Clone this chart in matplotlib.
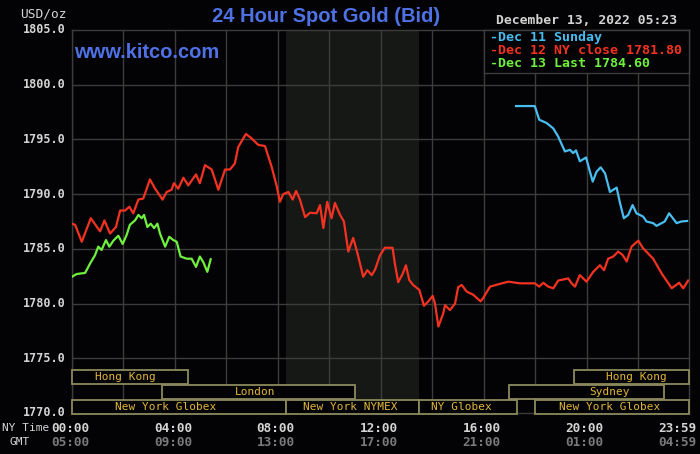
import matplotlib
matplotlib.use("Agg")
import matplotlib.pyplot as plt
from matplotlib.patches import Rectangle
import matplotlib.transforms as mtransforms

# ---------------- data ----------------
red_h = [0.0, 0.12, 0.38, 0.73, 1.09, 1.26, 1.48, 1.71, 1.87, 2.06, 2.23, 2.38, 2.58, 2.77, 3.03, 3.23,
         3.52, 3.68, 3.87, 3.96, 4.13, 4.33, 4.52, 4.82, 4.97, 5.17, 5.43, 5.69, 5.95, 6.14, 6.33, 6.46,
         6.76, 6.98, 7.24, 7.5, 7.76, 7.96, 8.08, 8.21, 8.41, 8.58, 8.71, 8.86, 9.06, 9.25, 9.51, 9.64,
         9.77, 9.92, 10.09, 10.22, 10.42, 10.57, 10.74, 10.93, 11.09, 11.32, 11.48, 11.65, 11.78, 11.97,
         12.16, 12.46, 12.55, 12.68, 12.85, 12.98, 13.11, 13.26, 13.5, 13.68, 13.85, 14.02, 14.11, 14.24,
         14.43, 14.5, 14.69, 14.89, 15.01, 15.15, 15.34, 15.6, 15.88, 15.98, 16.25, 16.63, 16.96, 17.41,
         17.99, 18.16, 18.32, 18.51, 18.71, 18.9, 19.29, 19.42, 19.55, 19.74, 20.0, 20.26, 20.52, 20.68,
         20.84, 21.04, 21.23, 21.4, 21.56, 21.75, 22.01, 22.2, 22.59, 22.92, 23.31, 23.6, 23.76, 23.95]
red_p = [1787.3, 1787.2, 1785.65, 1787.8, 1786.6, 1787.6, 1786.4, 1787.0, 1788.5, 1788.5, 1788.85, 1788.25,
         1789.5, 1789.6, 1791.35, 1790.5, 1789.5, 1790.2, 1790.4, 1791.0, 1790.5, 1791.5, 1790.8, 1791.8,
         1791.0, 1792.65, 1792.25, 1790.4, 1792.25, 1792.25, 1792.8, 1794.3, 1795.5, 1795.1, 1794.5, 1794.4,
         1792.5, 1790.7, 1789.3, 1790.0, 1790.2, 1789.5, 1790.3, 1789.5, 1787.9, 1788.3, 1788.25, 1789.0,
         1786.9, 1789.3, 1787.8, 1789.2, 1788.1, 1787.5, 1784.75, 1786.0, 1784.65, 1782.45, 1783.05, 1782.6,
         1783.1, 1784.4, 1785.1, 1785.1, 1783.65, 1781.95, 1782.7, 1783.5, 1782.15, 1781.7, 1781.25, 1779.8,
         1780.2, 1780.7, 1780.0, 1777.9, 1779.1, 1779.85, 1779.4, 1780.0, 1781.5, 1781.7, 1781.1, 1780.8,
         1780.2, 1780.5, 1781.55, 1781.8, 1782.0, 1781.85, 1781.85, 1781.55, 1781.9, 1781.55, 1781.4, 1782.1,
         1782.3, 1781.85, 1781.55, 1782.6, 1782.0, 1782.9, 1783.5, 1783.05, 1784.1, 1784.3, 1784.75, 1784.45,
         1783.85, 1785.2, 1785.75, 1785.05, 1784.1, 1782.75, 1781.4, 1781.9, 1781.4, 1782.1]

blue_h = [17.26, 17.99, 18.16, 18.45, 18.71, 18.9, 19.16, 19.36, 19.48, 19.59, 19.74, 19.98, 20.24, 20.39,
          20.55, 20.72, 20.91, 21.17, 21.3, 21.45, 21.62, 21.79, 21.94, 22.2, 22.33, 22.59, 22.72, 23.04,
          23.21, 23.5, 23.69, 23.91]
blue_p = [1798.05, 1798.05, 1796.8, 1796.5, 1796.0, 1795.25, 1793.9, 1794.05, 1793.75, 1794.0, 1793.0,
          1793.35, 1791.15, 1792.05, 1792.45, 1791.9, 1790.2, 1790.6, 1789.2, 1787.8, 1788.1, 1789.0, 1788.25,
          1787.95, 1787.5, 1787.35, 1787.1, 1787.5, 1788.25, 1787.35, 1787.5, 1787.55]

green_h = [0.0, 0.18, 0.51, 0.70, 0.89, 1.02, 1.15, 1.32, 1.45, 1.61, 1.8, 1.97, 2.12, 2.25, 2.45, 2.58,
           2.71, 2.8, 2.93, 3.06, 3.19, 3.32, 3.42, 3.62, 3.78, 3.94, 4.07, 4.22, 4.46, 4.65, 4.82, 4.97,
           5.1, 5.26, 5.39]
green_p = [1782.45, 1782.7, 1782.8, 1783.65, 1784.4, 1785.2, 1784.9, 1785.8, 1785.2, 1785.75, 1786.2,
           1785.45, 1786.25, 1787.2, 1787.6, 1788.1, 1787.8, 1788.1, 1787.0, 1787.3, 1786.9, 1787.3, 1786.4,
           1785.2, 1786.1, 1785.8, 1785.65, 1784.3, 1784.1, 1784.1, 1783.35, 1784.3, 1783.8, 1782.9, 1784.05]

y_ticks = [1770.0, 1775.0, 1780.0, 1785.0, 1790.0, 1795.0, 1800.0, 1805.0]
x_ticks = [0, 4, 8, 12, 16, 20, 23.983]
ny_labels = ["00:00", "04:00", "08:00", "12:00", "16:00", "20:00", "23:59"]
gmt_labels = ["05:00", "09:00", "13:00", "17:00", "21:00", "01:00", "04:59"]

legend_labels = ["Dec 11 Sunday", "Dec 12 NY close 1781.80", "Dec 13 Last 1784.60"]

# market sessions: (name, start hour, end hour, row, label centre hour) row 0 = top
sessions = [
    ("Hong Kong", 0.0, 4.5, 0, 2.09),
    ("Hong Kong", 19.5, 24.0, 0, 21.94),
    ("London", 3.5, 11.0, 1, 7.13),
    ("Sydney", 17.0, 23.0, 1, 20.9),
    ("New York Globex", 0.0, 8.333, 2, 3.62),
    ("New York NYMEX", 8.333, 13.5, 2, 10.81),
    ("NY Globex", 13.5, 17.3, 2, 15.12),
    ("New York Globex", 18.0, 24.0, 2, 20.9),
]
nymex_span = (8.333, 13.5)

# ---------------- style ----------------
BG = "#030305"
GRID = "#3c3c3c"
RED = "#f43222"
BLUE = "#48bdf0"
GREEN = "#6ff03e"
TXT = "#d4d4d4"
DIM = "#7a7a7a"
GOLD = "#e2b53a"
BOX = "#8c8a5c"
TITLE = "#4e72e6"
MONO = "DejaVu Sans Mono"

fig = plt.figure(figsize=(7.0, 4.54), dpi=100, facecolor=BG)
ax = fig.add_axes([72 / 700, 1 - 413 / 454, 617 / 700, 383 / 454])
ax.set_facecolor(BG)
ax.set_xlim(0, 23.983)
ax.set_ylim(1770, 1805)

# shaded NYMEX region
ax.axvspan(nymex_span[0], nymex_span[1], color="#151815", zorder=0, lw=0)

# grid
for xv in range(0, 24, 2):
    ax.axvline(xv, color=GRID, lw=1.0, zorder=1)
for yv in y_ticks[1:-1]:
    ax.axhline(yv, color=GRID, lw=1.0, zorder=1)

for s in ax.spines.values():
    s.set_color(GRID)
    s.set_linewidth(1.0)
ax.set_xticks([])
ax.set_yticks([])

# lines
ax.plot(red_h, red_p, color=RED, lw=1.6, zorder=3)
ax.plot(blue_h, blue_p, color=BLUE, lw=1.6, zorder=3)
ax.plot(green_h, green_p, color=GREEN, lw=1.6, zorder=3)

# market session boxes
row_tops = [1773.9, 1772.55, 1771.2]
row_h = 1.28
for name, s0, s1, r, lc in sessions:
    y0 = row_tops[r] - row_h
    ax.add_patch(Rectangle((s0, y0), s1 - s0, row_h, facecolor=BG, edgecolor=BOX,
                           lw=1.3, zorder=4, clip_on=False))
    ax.text(lc, y0 + row_h / 2, name, color=GOLD, fontsize=8, family=MONO,
            ha="center", va="center", zorder=5)

# y tick labels
for yv in y_ticks:
    ax.text(-0.25, yv, f"{yv:.1f}", color=TXT, fontsize=8.5, family=MONO, fontweight="bold",
            ha="right", va="center", transform=ax.transData, clip_on=False)

# x tick labels
trans = mtransforms.blended_transform_factory(ax.transData, fig.transFigure)
for xv, l1, l2 in zip(x_ticks, ny_labels, gmt_labels):
    ha = "center"
    xx = xv - 0.08
    if l1 == "23:59":
        ha = "right"
        xx = xv + 0.27
    ax.text(xx, 1 - 428 / 454, l1, color=TXT, fontsize=9.2, family=MONO, fontweight="bold",
            ha=ha, va="center", transform=trans, clip_on=False)
    ax.text(xx, 1 - 442 / 454, l2, color=DIM, fontsize=9.2, family=MONO, fontweight="bold",
            ha=ha, va="center", transform=trans, clip_on=False)

fig.text(2 / 700, 1 - 428 / 454, "NY Time", color=TXT, fontsize=8, family=MONO, ha="left", va="center")
fig.text(10 / 700, 1 - 442 / 454, "GMT", color=TXT, fontsize=8, family=MONO, ha="left", va="center")
fig.text(20 / 700, 1 - 14 / 454, "USD/oz", color=TXT, fontsize=9.3, family=MONO, ha="left", va="center")

# titles
fig.text(326 / 700, 1 - 16 / 454, "24 Hour Spot Gold (Bid)", color=TITLE, fontsize=14.5,
         family="Liberation Sans", fontweight="bold", ha="center", va="center")
fig.text(74 / 700, 1 - 53 / 454, "www.kitco.com", color=TITLE, fontsize=14.5,
         family="Liberation Sans", fontweight="bold", ha="left", va="center")
fig.text(677 / 700, 1 - 21 / 454, "December 13, 2022 05:23", color=TXT, fontsize=9.4, family=MONO,
         fontweight="bold", ha="right", va="center")

# legend box
lax = fig.add_axes([484 / 700, 1 - 73 / 454, 205 / 700, 43 / 454])
lax.set_facecolor(BG)
lax.set_xticks([])
lax.set_yticks([])
for s in lax.spines.values():
    s.set_color(GRID)
    s.set_linewidth(1.0)
for i, (lab, col) in enumerate(zip(legend_labels, [BLUE, RED, GREEN])):
    lax.text(0.03, 0.83 - i * 0.31, "-" + lab, color=col, fontsize=9.5, family=MONO,
             fontweight="bold", ha="left", va="center", transform=lax.transAxes)

fig.savefig("out.png", dpi=100, facecolor=BG)
